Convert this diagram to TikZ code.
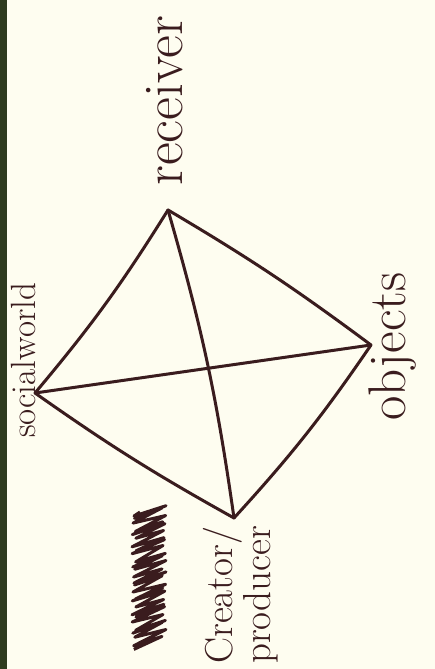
\documentclass[tikz,border=0pt]{standalone}
\usepackage{fontspec}
\usetikzlibrary{positioning}
\definecolor{paper}{HTML}{FEFDF0}
\definecolor{ink}{HTML}{3A1C1E}
\definecolor{binding}{HTML}{2E3B1E}
\tikzset{
    x=1pt, y=-1pt,
    % strokes
    pen/.style={draw=ink, line width=3pt, line cap=round, line join=round},
    scribble/.style={draw=ink, line width=3pt, line join=round},
    % labels written sideways
    word/.style={rotate=90, inner sep=0pt, text=ink, align=left},
    dot/.style={coordinate}
}
\begin{document}
\begin{tikzpicture}

\fill[paper] (0,0) rectangle (435,669);
\fill[binding] (0,0) rectangle (7,669);

% corners
\node[dot] (social) at (35,393) {};
\node[dot] (receiver) at (168,210) {};
\node[dot] (objects) at (371,345) {};
\node[dot] (creator) at (234,518) {};

% labels
\node[word, anchor=north west, font=\fontsize{35}{35}\selectfont] (socialLbl) at (11,438) {socialworld};
\node[word, anchor=north west, font=\fontsize{56}{56}\selectfont] (receiverLbl) at (146,186) {receiver};
\node[word, anchor=north west, font=\fontsize{53}{53}\selectfont] (objectsLbl) at (369,421) {objects};
\node[word, anchor=north west, font=\fontsize{39}{32}\selectfont] (creatorLbl) at (203,664) {Creator/\\producer};

% edges
\draw[pen] (social) to[bend right=4] (receiver);
\draw[pen] (receiver) to[bend left=3] (objects);
\draw[pen] (objects) to[bend left=4] (creator);
\draw[pen] (creator) to[bend left=3] (social);
\draw[pen] (receiver) to[bend left=4] (creator);
\draw[pen] (social) -- (objects);

% crossed-out word
\draw[scribble] (140,512) \foreach \k in {0,...,52} { -- ({ifthenelse(isodd(\k),164,134)+2*sin(\k*83)}, {ifthenelse(isodd(\k),502,514)+2.6*\k+2*cos(\k*57)}) };

\end{tikzpicture}
\end{document}
